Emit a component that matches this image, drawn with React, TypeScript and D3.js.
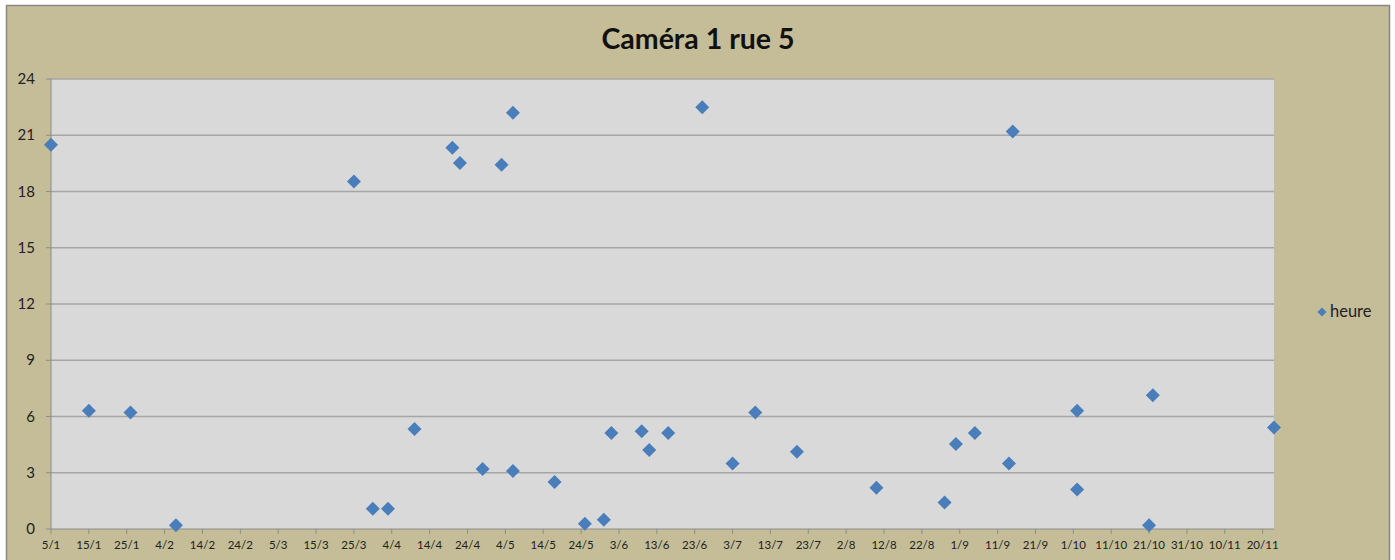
import React from "react";
import * as d3 from "d3";

const title = "Caméra 1 rue 5";
const seriesName = "heure";
const dates = [
  "2012-01-05", "2012-01-15", "2012-01-26", "2012-02-07", "2012-03-25", "2012-03-30",
  "2012-04-03", "2012-04-10", "2012-04-20", "2012-04-22", "2012-04-28", "2012-05-03",
  "2012-05-06", "2012-05-06", "2012-05-17", "2012-05-25", "2012-05-30", "2012-06-01",
  "2012-06-09", "2012-06-11", "2012-06-16", "2012-06-25", "2012-07-03", "2012-07-09",
  "2012-07-20", "2012-08-10", "2012-08-28", "2012-08-31", "2012-09-05", "2012-09-14",
  "2012-09-15", "2012-10-02", "2012-10-02", "2012-10-21", "2012-10-22", "2012-11-23",
];
const hours = [
  20.5, 6.31, 6.22, 0.2, 18.54, 1.08,
  1.08, 5.33, 20.34, 19.52, 3.2, 19.43,
  22.2, 3.09, 2.51, 0.28, 0.5, 5.12,
  5.21, 4.21, 5.12, 22.5, 3.5, 6.22,
  4.12, 2.2, 1.41, 4.53, 5.12, 3.5,
  21.2, 6.31, 2.11, 0.2, 7.13, 5.42,
];
const yTicks = [0, 3, 6, 9, 12, 15, 18, 21, 24];
const xStart = "2012-01-05";
const xEnd = "2012-11-23";
const tickStepDays = 10;
const tickCount = 33;

const W = 1395, H = 560;
const plot = { left: 51, right: 1274, top: 79, bottom: 529 };
const parse = d3.utcParse("%Y-%m-%d");
const fmt = d3.utcFormat("%-d/%-m");
const font = "Lato, 'Open Sans', sans-serif";

export default function App() {
  const x = d3.scaleUtc().domain([parse(xStart)!, parse(xEnd)!]).range([plot.left, plot.right]);
  const y = d3.scaleLinear().domain([0, 24]).range([plot.bottom, plot.top]);
  const xTicks = d3.range(tickCount).map((i) => d3.utcDay.offset(parse(xStart)!, i * tickStepDays));
  const pts = dates.map((d, i) => ({ x: x(parse(d)!), y: y(hours[i]) }));
  const diamond = (cx: number, cy: number, r: number) =>
    `M${cx},${cy - r}L${cx + r},${cy}L${cx},${cy + r}L${cx - r},${cy}Z`;
  const blue = "#4A7EBB";
  return (
    <svg width={W} height={H} style={{ position: "absolute", left: 0, top: 0 }}>
      <rect x={0} y={0} width={W} height={H} fill="#ffffff" />
      <rect x={6.5} y={5.5} width={1383} height={H} fill="#C4BD97" stroke="#888" strokeWidth={1.5} />
      <text x={698} y={49} textAnchor="middle" fontFamily={font} fontWeight="bold" fontSize={28.5} fill="#111">
        {title}
      </text>
      <rect x={plot.left} y={plot.top} width={plot.right - plot.left} height={plot.bottom - plot.top} fill="#D9D9D9" />
      {yTicks.map((t) => (
        <g key={t}>
          {t > 0 && <line x1={plot.left} x2={plot.right} y1={y(t)} y2={y(t)} stroke="#A6A6A6" strokeWidth={1.3} />}
          <line x1={plot.left - 5} x2={plot.left} y1={y(t)} y2={y(t)} stroke="#8C8C8C" />
          <text x={35} y={y(t) + 5} textAnchor="end" fontFamily={font} fontSize={15} fill="#222">
            {t}
          </text>
        </g>
      ))}
      <line x1={plot.left} x2={plot.left} y1={plot.top} y2={plot.bottom} stroke="#8C8C8C" />
      <line x1={plot.left} x2={plot.right} y1={plot.bottom} y2={plot.bottom} stroke="#8C8C8C" />
      {xTicks.map((t, i) => (
        <g key={i}>
          <line x1={x(t)} x2={x(t)} y1={plot.bottom} y2={plot.bottom + 5} stroke="#8C8C8C" />
          <text x={x(t)} y={549} textAnchor="middle" fontFamily={font} fontSize={11.5} fill="#222">
            {fmt(t)}
          </text>
        </g>
      ))}
      {pts.map((p, i) => (
        <path key={i} d={diamond(p.x, p.y, 7)} fill={blue} />
      ))}
      <path d={diamond(1322, 312, 4.5)} fill={blue} />
      <text x={1330} y={317} fontFamily={font} fontSize={16.5} fill="#222">
        {seriesName}
      </text>
    </svg>
  );
}
